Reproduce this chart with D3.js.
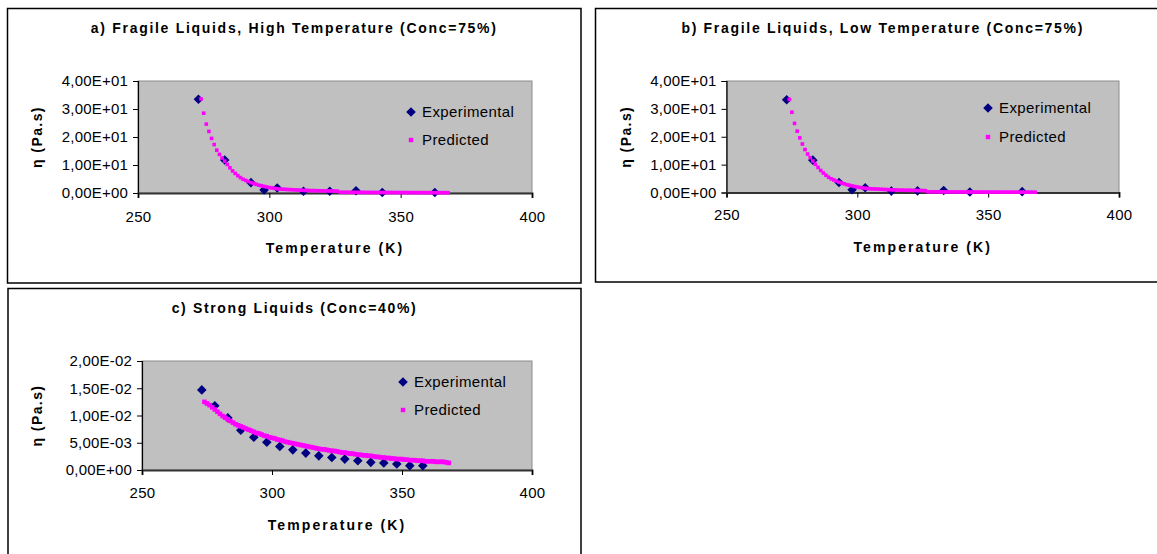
<!DOCTYPE html>
<html>
<head>
<meta charset="utf-8">
<script src="https://cdn.jsdelivr.net/npm/d3@7"></script>
<style>
  body { margin: 0; background: #fff; }
  svg { display: block; }
  text { font-family: "Liberation Sans", Arial, sans-serif; fill: #000; }
</style>
</head>
<body>
<svg id="chart" width="1157" height="554"></svg>
<script>
// experimental points, fragile liquids (a, b)
var tempsExpAB = [273, 283, 293, 298, 303, 313, 323, 333, 343, 363];
var expA = [33.5, 11.8, 3.7, 1.1, 1.8, 0.6, 0.6, 0.8, 0.2, 0.2];
var expB = [33.3, 11.6, 3.6, 1.0, 1.7, 0.5, 0.6, 0.7, 0.2, 0.3];

// experimental points, strong liquids (c)
var tempsExpC = [273, 278, 283, 288, 293, 298, 303, 308, 313, 318, 323, 328, 333, 338, 343, 348, 353, 358];
var expC = [0.0147, 0.0118, 0.0096, 0.0073, 0.0060, 0.0051, 0.0043, 0.0037, 0.0031, 0.0026,
            0.0023, 0.0020, 0.0017, 0.0014, 0.0013, 0.0011, 0.0008, 0.0008];

// predicted curves
var tempsPred = [274, 275, 276, 277, 278, 279, 280, 281, 282, 283,
                 284, 285, 286, 287, 288, 289, 290, 291, 292, 293,
                 294, 295, 296, 297, 298, 299, 300, 301, 302, 303,
                 304, 305, 306, 307, 308, 309, 310, 311, 312, 313,
                 314, 315, 316, 317, 318, 319, 320, 321, 322, 323,
                 324, 325, 326, 327, 328, 329, 330, 331, 332, 333,
                 334, 335, 336, 337, 338, 339, 340, 341, 342, 343,
                 344, 345, 346, 347, 348, 349, 350, 351, 352, 353,
                 354, 355, 356, 357, 358, 359, 360, 361, 362, 363,
                 364, 365, 366, 367, 368];
var predA = [33.6, 28.5, 24.6, 22.0, 19.5, 17.3, 15.3, 13.8, 12.5, 11.4,
             10.2, 9.0, 7.9, 7.0, 6.2, 5.5, 4.9, 4.5, 4.1, 3.7,
             3.4, 3.1, 2.8, 2.6, 2.35, 2.15, 1.95, 1.8, 1.65, 1.5,
             1.4, 1.35, 1.3, 1.25, 1.2, 1.15, 1.1, 1.05, 1.0, 0.95,
             0.9, 0.9, 0.85, 0.85, 0.8, 0.8, 0.8, 0.75, 0.75, 0.7,
             0.7, 0.7, 0.65, 0.25, 0.25, 0.24, 0.24, 0.23, 0.23, 0.22,
             0.22, 0.21, 0.21, 0.2, 0.2, 0.19, 0.19, 0.18, 0.18, 0.18,
             0.17, 0.17, 0.17, 0.16, 0.16, 0.16, 0.15, 0.15, 0.15, 0.14,
             0.14, 0.14, 0.13, 0.13, 0.13, 0.13, 0.12, 0.12, 0.12, 0.12,
             0.11, 0.11, 0.11, 0.11, 0.1];
var predB = [33.4, 28.8, 24.8, 22.0, 19.6, 17.4, 15.4, 13.8, 12.5, 11.3,
             10.1, 9.0, 7.9, 7.0, 6.2, 5.5, 4.9, 4.5, 4.1, 3.7,
             3.4, 3.1, 2.8, 2.6, 2.35, 2.15, 1.95, 1.8, 1.65, 1.5,
             1.4, 1.35, 1.3, 1.25, 1.2, 1.15, 1.1, 1.05, 1.0, 0.95,
             0.9, 0.9, 0.85, 0.85, 0.8, 0.8, 0.8, 0.75, 0.75, 0.7,
             0.7, 0.7, 0.65, 0.25, 0.25, 0.24, 0.24, 0.23, 0.23, 0.22,
             0.22, 0.21, 0.21, 0.2, 0.2, 0.19, 0.19, 0.18, 0.18, 0.18,
             0.17, 0.17, 0.17, 0.16, 0.16, 0.16, 0.15, 0.15, 0.15, 0.14,
             0.14, 0.14, 0.13, 0.13, 0.13, 0.13, 0.12, 0.12, 0.12, 0.12,
             0.11, 0.11, 0.11, 0.11, 0.1];
var predC = [0.0125, 0.0122, 0.0119, 0.0115, 0.0111, 0.0107, 0.0103, 0.0099, 0.0096, 0.0093,
             0.0090, 0.0087, 0.0084, 0.0082, 0.0080, 0.0078, 0.0076, 0.0074, 0.0072, 0.0070,
             0.0068, 0.0067, 0.0065, 0.0063, 0.0062, 0.0060, 0.0059, 0.0058, 0.0056, 0.0055,
             0.0054, 0.0052, 0.0051, 0.0050, 0.0049, 0.0048, 0.0047, 0.0046, 0.0045, 0.0044,
             0.0043, 0.0042, 0.0041, 0.0040, 0.0039, 0.0038, 0.0038, 0.0037, 0.0036, 0.0035,
             0.0035, 0.0034, 0.0033, 0.0032, 0.0032, 0.0031, 0.0030, 0.0030, 0.0029, 0.0028,
             0.0028, 0.0027, 0.0027, 0.0026, 0.0026, 0.0025, 0.0024, 0.0024, 0.0023, 0.0023,
             0.0022, 0.0022, 0.0021, 0.0021, 0.0020, 0.0020, 0.0020, 0.0019, 0.0019, 0.0018,
             0.0018, 0.0018, 0.0017, 0.0017, 0.0017, 0.0016, 0.0016, 0.0016, 0.0016, 0.0015,
             0.0015, 0.0015, 0.0015, 0.0014, 0.0013];

var xTicks = [250, 300, 350, 400];
var yTicksAB = [0, 10, 20, 30, 40];
var yTicksC = [0, 0.005, 0.01, 0.015, 0.02];
var seriesNames = ['Experimental', 'Predicted'];

var svg = d3.select('#chart');

// excel style "4,00E+01"
function sci(v) {
  var s = v.toExponential(2).split('e');
  var exp = parseInt(s[1], 10);
  var e = (exp < 0 ? '-' : '+') + (Math.abs(exp) < 10 ? '0' : '') + Math.abs(exp);
  return s[0].replace('.', ',') + 'E' + e;
}

var diamond = 'M0,-4.8L4.8,0L0,4.8L-4.8,0Z';

function drawPanel(p) {
  var g = svg.append('g');

  g.append('rect')
    .attr('x', p.box[0]).attr('y', p.box[1])
    .attr('width', p.box[2] - p.box[0]).attr('height', p.box[3] - p.box[1])
    .attr('fill', '#fff').attr('stroke', '#000').attr('stroke-width', 1.5);

  var x = d3.scaleLinear().domain([250, 400]).range([p.plot[0], p.plot[2]]);
  var y = d3.scaleLinear().domain([0, p.yTicks[p.yTicks.length - 1]]).range([p.plot[3], p.plot[1]]);

  g.append('rect')
    .attr('x', p.plot[0]).attr('y', p.plot[1])
    .attr('width', p.plot[2] - p.plot[0]).attr('height', p.plot[3] - p.plot[1])
    .attr('fill', '#c0c0c0').attr('stroke', '#8c8c8c').attr('stroke-width', 1);

  var yAxis = g.append('g')
    .attr('transform', 'translate(' + p.plot[0] + ',0)')
    .call(d3.axisLeft(y).tickValues(p.yTicks).tickFormat(sci).tickSize(5).tickPadding(5));
  yAxis.select('.domain').attr('stroke', '#000').attr('stroke-width', 1.2);
  yAxis.selectAll('.tick line').attr('stroke', '#000');
  yAxis.selectAll('text').style('font-size', '15px').style('letter-spacing', '0.2px').attr('fill', '#000');

  var xAxis = g.append('g')
    .attr('transform', 'translate(0,' + p.plot[3] + ')')
    .call(d3.axisBottom(x).tickValues(xTicks).tickFormat(d3.format('d')).tickSize(5).tickPadding(0));
  xAxis.select('.domain').attr('stroke', '#333').attr('stroke-width', 2);
  xAxis.selectAll('.tick line').attr('stroke', '#000');
  xAxis.selectAll('text').style('font-size', '15px').style('letter-spacing', '0.3px').attr('fill', '#000')
    .attr('dy', null).attr('y', p.xLabY - p.plot[3] + 5);

  // experimental diamonds
  g.append('g').selectAll('path')
    .data(p.expT.map(function(t, i) { return [t, p.exp[i]]; }))
    .join('path')
    .attr('d', diamond)
    .attr('transform', function(d) { return 'translate(' + x(d[0]) + ',' + y(d[1]) + ')'; })
    .attr('fill', '#000080');

  // predicted squares
  var s = p.predSize;
  g.append('g').selectAll('rect')
    .data(tempsPred.map(function(t, i) { return [t, p.pred[i]]; }))
    .join('rect')
    .attr('x', function(d) { return x(d[0]) - s / 2; })
    .attr('y', function(d) { return y(d[1]) - s / 2; })
    .attr('width', s).attr('height', s)
    .attr('fill', '#ff00ff');

  // legend
  var lg = g.append('g');
  lg.append('path').attr('d', diamond)
    .attr('transform', 'translate(' + p.legend[0] + ',' + p.legend[1] + ')')
    .attr('fill', '#000080');
  lg.append('rect')
    .attr('x', p.legend[0] - 2.2).attr('y', p.legend[2] - 2.2)
    .attr('width', 4.4).attr('height', 4.4).attr('fill', '#ff00ff');
  lg.selectAll('text').data(seriesNames).join('text')
    .attr('x', p.legend[0] + 11)
    .attr('y', function(d, i) { return p.legend[1 + i] + 5; })
    .style('font-size', '15px').style('letter-spacing', '0.4px')
    .text(function(d) { return d; });

  // titles
  g.append('text')
    .attr('x', (p.box[0] + p.box[2]) / 2).attr('y', p.titleY + 5)
    .attr('text-anchor', 'middle')
    .style('font-size', '14px').style('font-weight', 'bold').style('letter-spacing', p.titleSpacing)
    .text(p.title);
  g.append('text')
    .attr('x', (p.plot[0] + p.plot[2]) / 2).attr('y', p.xTitleY + 5)
    .attr('text-anchor', 'middle')
    .style('font-size', '14px').style('font-weight', 'bold').style('letter-spacing', '2.1px')
    .text('Temperature (K)');
  g.append('text')
    .attr('transform', 'translate(' + p.yTitleX + ',' + ((p.plot[1] + p.plot[3]) / 2) + ') rotate(-90)')
    .attr('text-anchor', 'middle')
    .style('font-size', '14px').style('font-weight', 'bold').style('letter-spacing', '1.4px')
    .text('\u03b7 (Pa.s)');
}

var panels = [
  { title: 'a) Fragile Liquids, High Temperature (Conc=75%)', titleSpacing: '1.7px',
    box: [7.5, 8.5, 581, 283], plot: [138, 81, 532, 193], yTicks: yTicksAB,
    expT: tempsExpAB, exp: expA, pred: predA, predSize: 3.6,
    legend: [411, 112, 140], titleY: 28, xLabY: 217, xTitleY: 248, yTitleX: 42 },
  { title: 'b) Fragile Liquids, Low Temperature (Conc=75%)', titleSpacing: '1.7px',
    box: [595.5, 8.5, 1170, 282], plot: [726.5, 81, 1119, 192.5], yTicks: yTicksAB,
    expT: tempsExpAB, exp: expB, pred: predB, predSize: 3.6,
    legend: [988, 108, 137], titleY: 28, xLabY: 215, xTitleY: 247, yTitleX: 631 },
  { title: 'c) Strong Liquids (Conc=40%)', titleSpacing: '1.65px',
    box: [8, 288.5, 581, 570], plot: [142, 361, 532, 470], yTicks: yTicksC,
    expT: tempsExpC, exp: expC, pred: predC, predSize: 4.6,
    legend: [403, 382, 410], titleY: 308, xLabY: 493, xTitleY: 525, yTitleX: 42 }
];

panels.forEach(drawPanel);
</script>
</body>
</html>
